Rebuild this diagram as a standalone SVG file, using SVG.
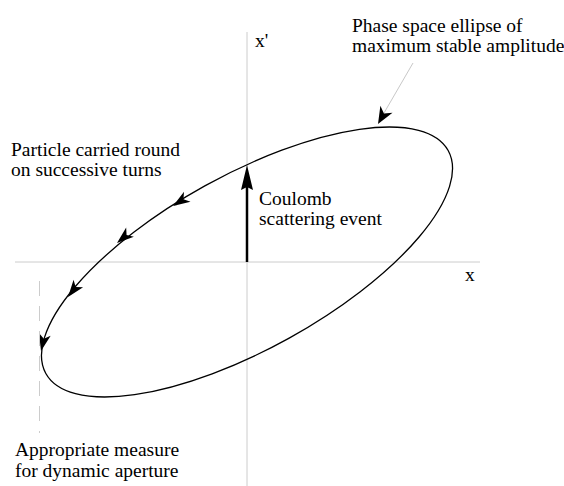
<svg xmlns="http://www.w3.org/2000/svg" width="564" height="486" viewBox="0 0 564 486">
<style>
text{font-family:'Liberation Serif','Times New Roman',serif;font-size:19.5px;fill:#000}
.axis{stroke:#cccccc;stroke-width:1;fill:none}
.curve{stroke:#000;stroke-width:1.3;fill:none}
.head{fill:#000;stroke:none}
</style>
<defs>
<polygon id="ah" points="0,0 -17,-6 -12.5,0 -17,6"/>
<polygon id="ahBig" points="0,0 -17,-7 -12,0 -17,7"/>
</defs>
<rect width="564" height="486" fill="#fff"/>
<g id="axes">
<line class="axis" x1="247" y1="32" x2="247" y2="486"/>
<line class="axis" x1="15" y1="262" x2="480" y2="262"/>
<text x="255" y="47">x'</text>
<text x="465" y="281">x</text>
</g>
<g id="ellipse">
<ellipse class="curve" cx="247" cy="262" rx="230" ry="87" transform="rotate(-29 247 262)"/>
</g>
<g id="connectors">
<g class="head">
<use href="#ah" transform="translate(173 206) rotate(147)"/>
<use href="#ah" transform="translate(117 243) rotate(140)"/>
<use href="#ah" transform="translate(68 297) rotate(127.5)"/>
<use href="#ah" transform="translate(41 351) rotate(103)"/>
</g>
<line x1="247" y1="262" x2="247" y2="185" stroke="#000" stroke-width="2.5"/>
<polygon class="head" points="247,165 241,190 247,187 253,190"/>
<line x1="413" y1="63" x2="384" y2="113" stroke="#c8c8c8" stroke-width="1"/>
<use href="#ahBig" class="head" transform="translate(378 124) rotate(119.8)"/>
<line x1="39.5" y1="281" x2="39.5" y2="433" stroke="#cccccc" stroke-width="1" stroke-dasharray="15 10"/>
</g>
<g id="label-ellipse">
<text x="352" y="32">Phase space ellipse of</text>
<text x="352" y="52">maximum stable amplitude</text>
</g>
<g id="label-particle">
<text x="11" y="156">Particle carried round</text>
<text x="11" y="176">on successive turns</text>
</g>
<g id="label-coulomb">
<text x="259" y="205">Coulomb</text>
<text x="259" y="225">scattering event</text>
</g>
<g id="label-aperture">
<text x="15" y="456">Appropriate measure</text>
<text x="15" y="477">for dynamic aperture</text>
</g>
</svg>
